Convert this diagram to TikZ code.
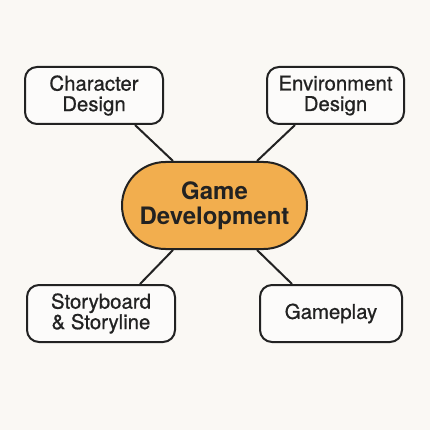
\documentclass[tikz,border=0pt]{standalone}
\usepackage{fontspec}
\setmainfont{TeX Gyre Heros}
\newfontfamily\leaffont[FakeBold=0.7]{TeX Gyre Heros}
\definecolor{bg}{HTML}{FAF8F4}
\definecolor{ink}{HTML}{222222}
\definecolor{orangefill}{HTML}{F2AE4E}
\begin{document}
\begin{tikzpicture}[x=1pt,y=-1pt,
  leaf/.style={draw=ink, line width=2pt, rounded corners=12pt, fill=bg!50!white, text=ink,
    align=center, inner sep=0pt, minimum height=57pt, font=\leaffont\fontsize{20.4}{20.5}\selectfont},
  hub/.style={draw=ink, line width=2pt, rounded corners=43.5pt, fill=orangefill, text=ink,
    align=center, inner sep=0pt, minimum width=185pt, minimum height=87pt,
    font=\bfseries\fontsize{24}{25}\selectfont},
  link/.style={draw=ink, line width=2pt}]
\fill[bg] (0,0) rectangle (430,430);
\useasboundingbox (0,0) rectangle (430,430);
\node[hub] (gd) at (214.5,205.5) {Game\\Development};
\node[leaf, minimum width=138pt] (cd) at (94,95.5) {Character\\Design};
\node[leaf, minimum width=137pt] (ed) at (335.5,95.5) {Environment\\Design};
\node[leaf, minimum width=148pt] (sb) at (101,313.5) {Storyboard\\\& Storyline};
\node[leaf, minimum width=142pt] (gp) at (331,313.5) {Gameplay};
\draw[link] ([xshift=41pt]cd.south) -- ([xshift=-41.5pt]gd.north);
\draw[link] ([xshift=-40.5pt]ed.south) -- ([xshift=42.5pt]gd.north);
\draw[link] ([xshift=39pt]sb.north) -- ([xshift=-41.5pt]gd.south);
\draw[link] ([xshift=-39pt]gp.north) -- ([xshift=42.5pt]gd.south);
\end{tikzpicture}
\end{document}
